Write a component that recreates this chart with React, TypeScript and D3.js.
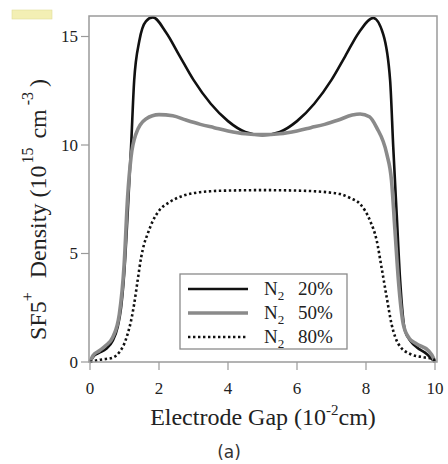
import * as d3 from "d3";

const W = 448;
const H = 464;

// plot box
const LEFT = 89;
const RIGHT = 437;
const TOP = 16;
const BOTTOM = 362;

const xTicks = [0, 2, 4, 6, 8, 10];
const yTicks = [0, 5, 10, 15];

// N2 20%
const gap20 = [0, 0.12, 0.3, 0.46, 0.66, 0.8, 0.9, 0.99, 1.09, 1.19, 1.28, 1.43, 1.62, 1.82, 2.2, 2.6, 3.0, 3.5, 4.0, 4.5, 5.0, 5.5, 6.0, 6.5, 7.0, 7.4, 7.8, 8.21, 8.5, 8.7, 8.79, 8.89, 8.99, 9.13, 9.3, 9.47, 9.76, 9.9, 10];
const dens20 = [0, 0.29, 0.45, 0.6, 0.98, 1.6, 2.5, 4.05, 6.8, 9.9, 12.96, 14.8, 15.7, 15.88, 15.2, 14.1, 13.0, 11.9, 11.1, 10.6, 10.45, 10.6, 11.1, 11.9, 13.0, 14.1, 15.2, 15.85, 15.1, 12.96, 9.9, 6.8, 3.75, 1.44, 0.95, 0.68, 0.37, 0.15, 0];

// N2 50%
const gap50 = [0, 0.09, 0.27, 0.45, 0.66, 0.85, 0.99, 1.09, 1.19, 1.33, 1.62, 2.0, 2.4, 2.78, 3.2, 3.6, 4.0, 4.5, 5.0, 5.5, 6.0, 6.4, 6.8, 7.2, 7.6, 7.83, 8.1, 8.31, 8.6, 8.74, 8.84, 8.94, 9.08, 9.25, 9.47, 9.81, 9.95, 10];
const dens50 = [0, 0.3, 0.52, 0.75, 1.14, 2.2, 4.5, 7.6, 9.45, 10.5, 11.2, 11.4, 11.35, 11.15, 10.95, 10.8, 10.65, 10.52, 10.48, 10.52, 10.65, 10.8, 10.95, 11.15, 11.38, 11.43, 11.3, 10.8, 9.6, 8.35, 6.05, 3.75, 1.75, 1.1, 0.83, 0.52, 0.2, 0];

// N2 80%
const gap80 = [0, 0.27, 0.46, 0.66, 0.85, 0.99, 1.09, 1.19, 1.28, 1.38, 1.48, 1.57, 1.67, 1.82, 2.0, 2.3, 2.69, 3.0, 3.5, 4.0, 5.0, 6.0, 6.5, 7.0, 7.25, 7.55, 7.83, 8.12, 8.31, 8.45, 8.6, 8.74, 8.94, 9.28, 9.66, 9.95, 10];
const dens80 = [0, 0.1, 0.14, 0.2, 0.45, 0.83, 1.29, 1.9, 2.67, 3.75, 4.8, 5.44, 5.9, 6.5, 6.97, 7.36, 7.66, 7.78, 7.87, 7.9, 7.92, 7.9, 7.87, 7.8, 7.74, 7.55, 7.28, 6.5, 5.6, 4.36, 2.98, 1.75, 0.83, 0.37, 0.22, 0.14, 0];

const legendLabels = ["20%", "50%", "80%"];

const series = [
  { xs: gap20, ys: dens20, stroke: "#111", width: 2.6, dash: null },
  { xs: gap50, ys: dens50, stroke: "#8a8a8a", width: 3.6, dash: null },
  { xs: gap80, ys: dens80, stroke: "#111", width: 2.6, dash: "2.4 2.6" },
];

const serif = "'Liberation Serif', 'DejaVu Serif', serif";

export default function App() {
  const x = d3.scaleLinear().domain([0, 10]).range([90, 435]);
  const y = d3.scaleLinear().domain([0, 15]).range([BOTTOM, BOTTOM - 325.5]);

  const line = d3
    .line<[number, number]>()
    .x((d) => x(d[0]))
    .y((d) => y(d[1]))
    .curve(d3.curveMonotoneX);

  const legX = 180;
  const legY = 274;

  return (
    <svg width={W} height={H} style={{ position: "absolute", left: 0, top: 0, background: "#fff" }}>
      {/* little sticker in the corner */}
      <rect x={12} y={10} width={40} height={9} fill="#f3efb4" stroke="#e2dc9a" strokeWidth={0.6} />

      {/* curves */}
      {series.map((s, i) => (
        <path
          key={i}
          d={line(s.xs.map((v, j) => [v, s.ys[j]] as [number, number])) || ""}
          fill="none"
          stroke={s.stroke}
          strokeWidth={s.width}
          strokeDasharray={s.dash || undefined}
          strokeLinejoin="round"
        />
      ))}

      {/* frame */}
      <rect x={LEFT} y={TOP} width={RIGHT - LEFT} height={BOTTOM - TOP} fill="none" stroke="#9a9a9a" strokeWidth={1.5} />

      {/* y ticks */}
      {yTicks.map((t) => (
        <g key={t}>
          <line x1={LEFT - 8} x2={LEFT} y1={y(t)} y2={y(t)} stroke="#9a9a9a" strokeWidth={1.2} />
          <text x={LEFT - 11} y={y(t)} dy="0.35em" textAnchor="end" fontFamily={serif} fontSize={17} fill="#222">
            {t}
          </text>
        </g>
      ))}

      {/* x ticks */}
      {xTicks.map((t) => (
        <g key={t}>
          <line x1={x(t)} x2={x(t)} y1={BOTTOM} y2={BOTTOM + 8} stroke="#9a9a9a" strokeWidth={1.2} />
          <text x={x(t)} y={BOTTOM + 32} textAnchor="middle" fontFamily={serif} fontSize={17} fill="#222">
            {t}
          </text>
        </g>
      ))}

      {/* x label */}
      <text x={263} y={425} textAnchor="middle" fontFamily={serif} fontSize={24} fill="#222">
        Electrode Gap (10
        <tspan dy={-10} fontSize={15}>-2</tspan>
        <tspan dy={10}>cm)</tspan>
      </text>

      {/* y label */}
      <text
        transform="translate(46, 340) rotate(-90)"
        textAnchor="start"
        fontFamily={serif}
        fontSize={24}
        fill="#222"
      >
        SF5
        <tspan dy={-13} fontSize={16}>+</tspan>
        <tspan dy={13} dx={14}>Density (10</tspan>
        <tspan dy={-13} dx={2} fontSize={16}>15</tspan>
        <tspan dy={13} dx={9}>cm</tspan>
        <tspan dy={-13} dx={4} fontSize={16}>-3</tspan>
        <tspan dy={13} dx={5}>)</tspan>
      </text>

      {/* legend */}
      <rect x={legX} y={legY} width={167} height={75} fill="#fff" stroke="#8a8a8a" strokeWidth={1.3} />
      {series.map((s, i) => {
        const ly = legY + 15 + i * 24;
        return (
          <g key={i}>
            <line
              x1={legX + 8}
              x2={legX + 68}
              y1={ly}
              y2={ly}
              stroke={s.stroke}
              strokeWidth={s.width}
              strokeDasharray={s.dash || undefined}
            />
            <text x={legX + 84} y={ly + 6} fontFamily={serif} fontSize={19} fill="#222">
              N
              <tspan dy={5} fontSize={13}>2</tspan>
              <tspan x={legX + 118} dy={-5}>{legendLabels[i]}</tspan>
            </text>
          </g>
        );
      })}

      {/* caption */}
      <text x={229} y={458} textAnchor="middle" fontFamily="'DejaVu Sans', sans-serif" fontSize={17} fill="#333">
        (a)
      </text>
    </svg>
  );
}
